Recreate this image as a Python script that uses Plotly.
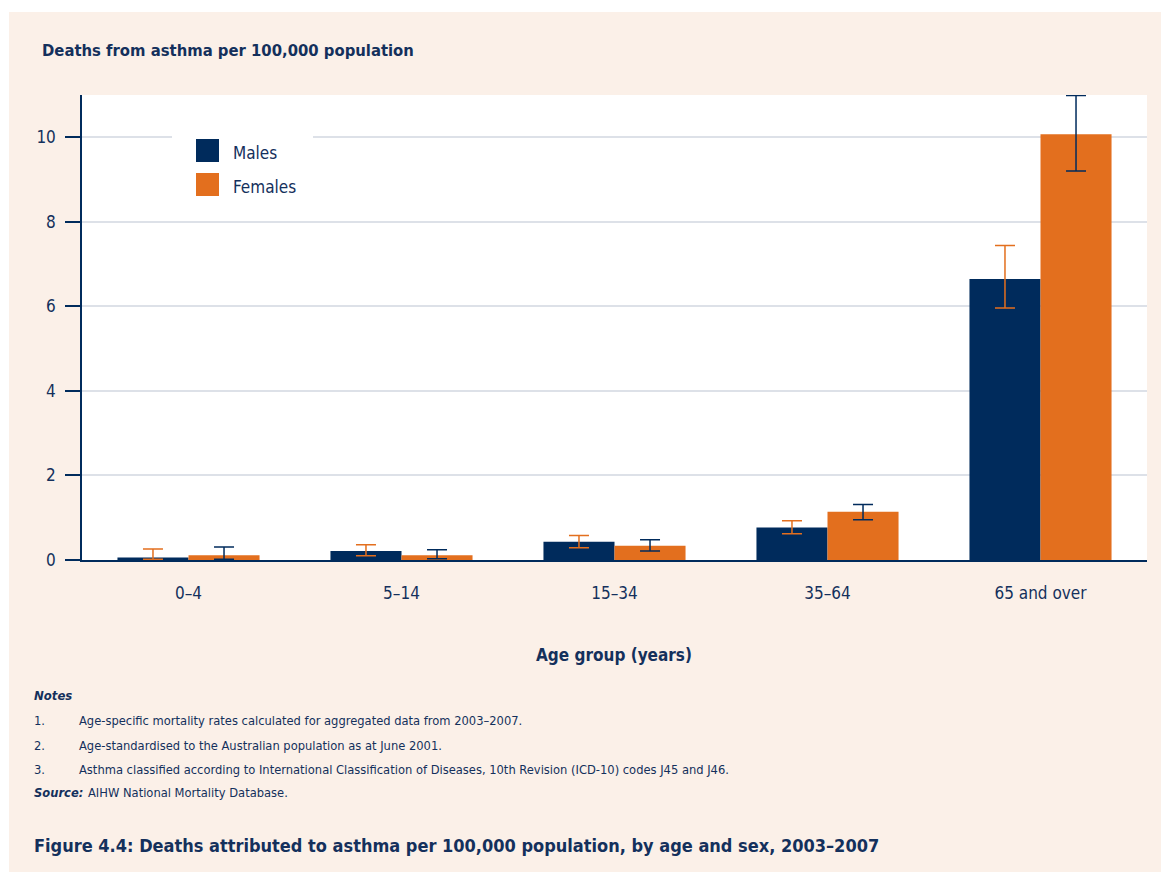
import plotly.graph_objects as go

# ---- data ----
age_groups = ["0–4", "5–14", "15–34", "35–64", "65 and over"]
males = [0.06, 0.21, 0.43, 0.77, 6.65]
males_low = [0.02, 0.10, 0.29, 0.62, 5.96]
males_high = [0.26, 0.36, 0.58, 0.93, 7.44]
females = [0.11, 0.11, 0.34, 1.14, 10.07]
females_low = [0.02, 0.03, 0.21, 0.95, 9.20]
females_high = [0.31, 0.24, 0.48, 1.31, 10.99]
y_ticks = [0, 2, 4, 6, 8, 10]

notes = [
    "Age-specific mortality rates calculated for aggregated data from 2003–2007.",
    "Age-standardised to the Australian population as at June 2001.",
    "Asthma classified according to International Classification of Diseases, 10th Revision (ICD-10) codes J45 and J46.",
]
source_text = "AIHW National Mortality Database."
chart_title = "Deaths from asthma per 100,000 population"
x_title = "Age group (years)"
caption = "Figure 4.4: Deaths attributed to asthma per 100,000 population, by age and sex, 2003–2007"

# ---- styles ----
NAVY = "#002B5C"
ORANGE = "#E36F1E"
BEIGE = "#FBF0E8"
TEXT = "#14305C"
GRID = "#DDE1E8"
FONT = "Liberation Sans Narrow, DejaVu Sans Condensed, Arial Narrow, sans-serif"

W, H = 1161, 872
L, R, T, B = 82, 14, 95, 312
PW, PH = W - L - R, H - T - B


def px(x):
    return (x - L) / PW


def py(y):
    return (H - B - y) / PH


fig = go.Figure()
fig.add_trace(go.Bar(
    name="Males", x=age_groups, y=males,
    marker=dict(color=NAVY, line=dict(width=0)),
    error_y=dict(type="data", symmetric=False,
                 array=[h - v for h, v in zip(males_high, males)],
                 arrayminus=[v - l for v, l in zip(males, males_low)],
                 color=ORANGE, thickness=1.5, width=10),
    showlegend=False,
))
fig.add_trace(go.Bar(
    name="Females", x=age_groups, y=females,
    marker=dict(color=ORANGE, line=dict(width=0)),
    error_y=dict(type="data", symmetric=False,
                 array=[h - v for h, v in zip(females_high, females)],
                 arrayminus=[v - l for v, l in zip(females, females_low)],
                 color=NAVY, thickness=1.5, width=10),
    showlegend=False,
))

ann = []


def text(t, x, y, size, xanchor="left", yanchor="middle"):
    ann.append(dict(text=t, x=px(x), y=py(y), xref="paper", yref="paper",
                    xanchor=xanchor, yanchor=yanchor, showarrow=False,
                    font=dict(family=FONT, size=size, color=TEXT)))


text("<b>" + chart_title + "</b>", 40, 51, 16.5)
text("<b>" + x_title + "</b>", 614, 655, 17, xanchor="center")
text("<b><i>Notes</i></b>", 32, 695, 13)
for i, n in enumerate(notes):
    yy = [720, 745, 769][i]
    text(f"{i + 1}.", 32, yy, 12.8)
    text(n, 77, yy, 12.8)
text("<b><i>Source:</i></b>", 32, 792, 12.8)
text(source_text, 86, 792, 12.8)
text("<b>" + caption + "</b>", 32, 845, 18)
# legend labels
text("Males", 231, 153, 17)
text("Females", 231, 187, 17)

shapes = [
    # white page margins (top, left)
    dict(type="rect", xref="paper", yref="paper", x0=px(0), x1=px(W), y0=py(0), y1=py(12),
         fillcolor="white", line=dict(width=0), layer="below"),
    dict(type="rect", xref="paper", yref="paper", x0=px(0), x1=px(9), y0=py(0), y1=py(H),
         fillcolor="white", line=dict(width=0), layer="below"),
    # legend box and swatches
    dict(type="rect", xref="paper", yref="paper", x0=px(172), x1=px(313), y0=py(129), y1=py(201),
         fillcolor="white", line=dict(width=0), layer="above"),
    dict(type="rect", xref="paper", yref="paper", x0=px(196), x1=px(219), y0=py(139), y1=py(162),
         fillcolor=NAVY, line=dict(width=0), layer="above"),
    dict(type="rect", xref="paper", yref="paper", x0=px(196), x1=px(219), y0=py(173), y1=py(196),
         fillcolor=ORANGE, line=dict(width=0), layer="above"),
]

fig.update_layout(
    width=W, height=H,
    margin=dict(l=L, r=R, t=T, b=B, pad=0),
    paper_bgcolor=BEIGE, plot_bgcolor="white",
    barmode="group", bargap=0.333, bargroupgap=0,
    font=dict(family=FONT, color=TEXT, size=17),
    annotations=ann, shapes=shapes,
    xaxis=dict(showline=True, linecolor=NAVY, linewidth=2, ticks="", showgrid=False,
               tickfont=dict(family=FONT, size=17, color=TEXT), ticklabelstandoff=17),
    yaxis=dict(range=[0, 11], tickvals=y_ticks, showline=True, linecolor=NAVY, linewidth=1.5,
               ticks="outside", ticklen=15, tickcolor=NAVY, tickwidth=1.5,
               showgrid=True, gridcolor=GRID, gridwidth=1.5, zeroline=False,
               tickfont=dict(family=FONT, size=17, color=TEXT), ticklabelstandoff=6),
)

fig.write_html("out.html", config={"displayModeBar": False},
               post_script="document.body.style.margin='0';")
